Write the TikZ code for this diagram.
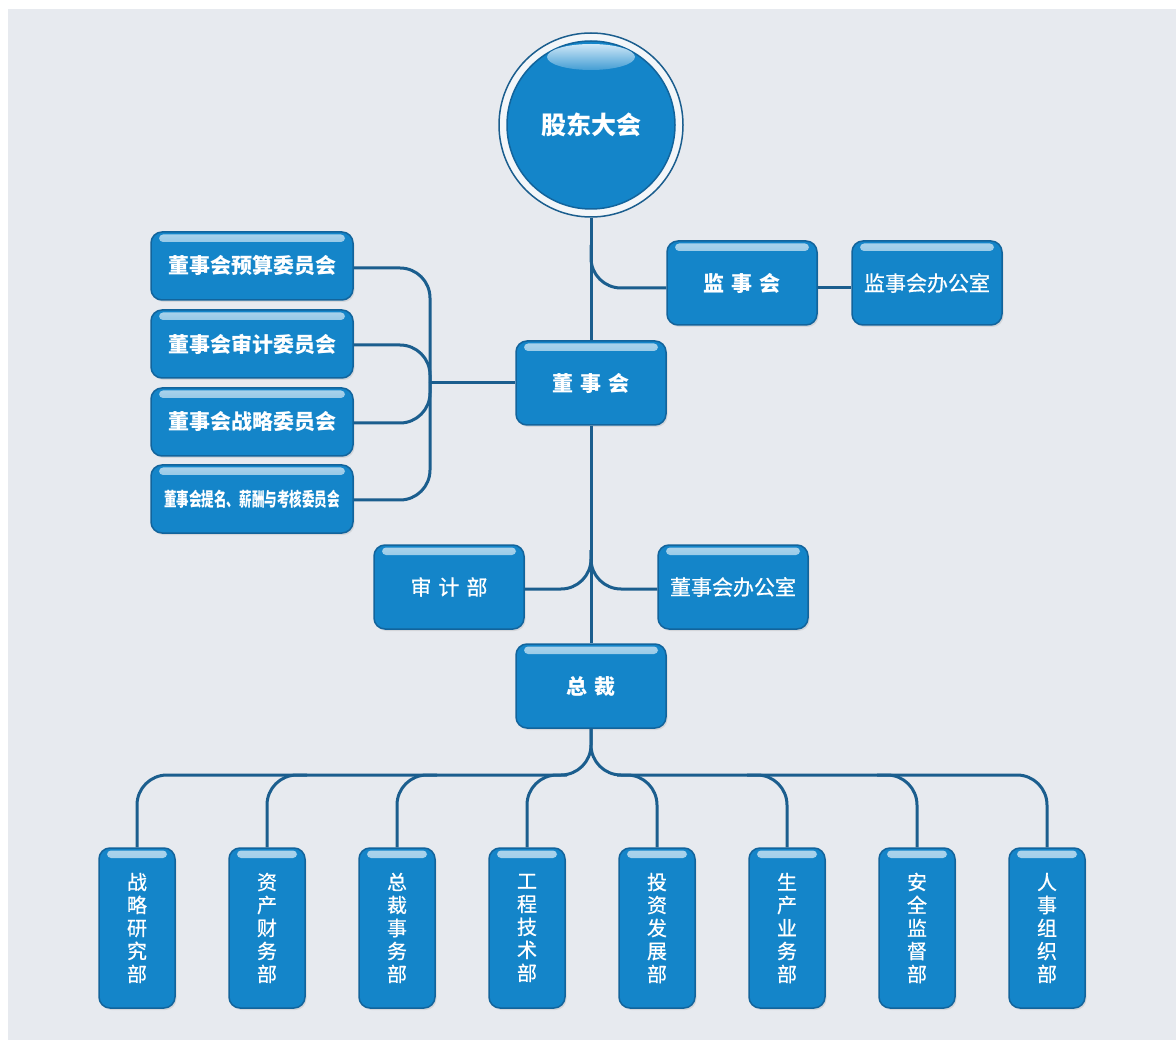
\documentclass[tikz,border=0pt]{standalone}
\usepackage{fontspec}
\newfontfamily\cjk{Noto Sans CJK SC}
\newfontfamily\cjkm{Noto Sans CJK SC}[FakeBold=0.7]
\usetikzlibrary{shadows,calc}
\definecolor{bg}{HTML}{E7EAEF}
\definecolor{boxblue}{HTML}{1485C9}
\definecolor{boxedge}{HTML}{12649C}
\definecolor{linec}{HTML}{1B5E8E}
\definecolor{glosshi}{HTML}{B9DCF3}
\definecolor{ringfill}{HTML}{F3F6F9}
\tikzset{
  conn/.style={draw=linec, line width=3pt},
  box/.style={rounded corners=11pt, fill=boxblue, draw=boxedge, line width=1.5pt,
    text=white, inner sep=0pt, align=center,
    drop shadow={opacity=0.18, shadow xshift=1.5pt, shadow yshift=-2pt},
    path picture={\shade[top color=boxblue!35!white, bottom color=boxblue, rounded corners=4pt]
      ([xshift=8pt,yshift=-2.5pt]path picture bounding box.north west) rectangle
      ([xshift=-8pt,yshift=-10pt]path picture bounding box.north east);}},
  hbox/.style={box, minimum width=150pt, minimum height=84pt},
  cbox/.style={box, minimum width=202pt, minimum height=68pt,
    font=\cjk\bfseries\fontsize{21}{21}\selectfont},
  vbox/.style={box, minimum width=76pt, minimum height=160pt,
    font=\cjkm\fontsize{20}{23}\selectfont},
  boldtxt/.style={font=\cjk\bfseries\fontsize{21}{21}\selectfont},
  regtxt/.style={font=\cjkm\fontsize{21}{21}\selectfont}
}
\newcommand{\gp}{\hspace{7pt}}
\begin{document}
\begin{tikzpicture}[x=1pt,y=-1pt]
\fill[white] (0,0) rectangle (1176,1040);
\fill[bg] (8,9) rectangle (1176,1040);
\useasboundingbox (0,0) rectangle (1176,1040);

% top circle
\node[circle, minimum size=184pt, inner sep=0pt, draw=linec, line width=1.5pt, fill=ringfill,
  text=white, font=\cjk\bfseries\fontsize{25}{25}\selectfont,
  path picture={
    \fill[boxblue] (path picture bounding box.center) circle (84pt);
    \draw[boxedge, line width=1.5pt] (path picture bounding box.center) circle (84pt);
    \shade[top color=glosshi!70!white, bottom color=boxblue!80!white]
      ([yshift=68pt]path picture bounding box.center) ellipse (44pt and 13pt);
  }] (gd) at (591,125) {\raisebox{-3pt}{股东大会}};

% boxes
\node[hbox, boldtxt] (dsh) at (591,383) {董\gp 事\gp 会};
\node[hbox, boldtxt] (jsh) at (742,283) {监\gp 事\gp 会};
\node[hbox, regtxt] (jsb) at (927,283) {监事会办公室};
\node[hbox, regtxt] (sjb) at (449,587) {审\gp 计\gp 部};
\node[hbox, regtxt] (dsb) at (733,587) {董事会办公室};
\node[hbox, boldtxt] (zc) at (591,686) {总\gp 裁};

\node[cbox] (c1) at (252,266) {董事会预算委员会};
\node[cbox] (c2) at (252,344) {董事会审计委员会};
\node[cbox] (c3) at (252,422) {董事会战略委员会};
\node[cbox] (c4) at (252,499) {\scalebox{0.66}[1]{\fontsize{19}{19}\selectfont 董事会提名、薪酬与考核委员会}};

\node[vbox] (b1) at (137,928) {战\\略\\研\\究\\部};
\node[vbox] (b2) at (267,928) {资\\产\\财\\务\\部};
\node[vbox] (b3) at (397,928) {总\\裁\\事\\务\\部};
\node[vbox] (b4) at (527,928) {工\\程\\技\\术\\部};
\node[vbox] (b5) at (657,928) {投\\资\\发\\展\\部};
\node[vbox] (b6) at (787,928) {生\\产\\业\\务\\部};
\node[vbox] (b7) at (917,928) {安\\全\\监\\督\\部};
\node[vbox] (b8) at (1047,928) {人\\事\\组\\织\\部};

% junction points
\coordinate (jj) at (591,245);
\coordinate (cj) at (430,383);
\coordinate (sj) at (591,550);
\coordinate (bj) at (591,775);

% connectors
\draw[conn] (gd.south) -- (dsh.north);
\draw[conn, rounded corners=30pt] (jj) -- (591,288) -- ([yshift=-5pt]jsh.west);
\draw[conn] ([yshift=-5pt]jsh.east) -- ([yshift=-5pt]jsb.west);

\draw[conn, rounded corners=30pt] ([yshift=-2pt]c1.east) -- ([yshift=-2pt]c1.east -| cj) -- (cj);
\draw[conn, rounded corners=30pt] ([yshift=-1pt]c2.east) -- ([yshift=-1pt]c2.east -| cj) -- (cj);
\draw[conn, rounded corners=30pt] ([yshift=-1pt]c3.east) -- ([yshift=-1pt]c3.east -| cj) -- (cj);
\draw[conn, rounded corners=30pt] ([yshift=-1pt]c4.east) -- ([yshift=-1pt]c4.east -| cj) -- (cj);
\draw[conn] (cj) -- (dsh.west);

\draw[conn] (dsh.south) -- (zc.north);
\draw[conn, rounded corners=30pt] ([yshift=-2pt]sjb.east) -- ([yshift=-2pt]sjb.east -| sj) -- (sj);
\draw[conn, rounded corners=30pt] ([yshift=-2pt]dsb.west) -- ([yshift=-2pt]dsb.west -| sj) -- (sj);

\draw[conn, rounded corners=30pt] (zc.south) -- (bj) -- (b1.north |- bj) -- (b1.north);
\draw[conn, rounded corners=30pt] (zc.south) -- (bj) -- (b8.north |- bj) -- (b8.north);
\draw[conn, rounded corners=30pt] ($(b2.north |- bj)+(40,0)$) -- (b2.north |- bj) -- (b2.north);
\draw[conn, rounded corners=30pt] ($(b3.north |- bj)+(40,0)$) -- (b3.north |- bj) -- (b3.north);
\draw[conn, rounded corners=30pt] ($(b4.north |- bj)+(40,0)$) -- (b4.north |- bj) -- (b4.north);
\draw[conn, rounded corners=30pt] ($(b5.north |- bj)+(-40,0)$) -- (b5.north |- bj) -- (b5.north);
\draw[conn, rounded corners=30pt] ($(b6.north |- bj)+(-40,0)$) -- (b6.north |- bj) -- (b6.north);
\draw[conn, rounded corners=30pt] ($(b7.north |- bj)+(-40,0)$) -- (b7.north |- bj) -- (b7.north);
\end{tikzpicture}
\end{document}
